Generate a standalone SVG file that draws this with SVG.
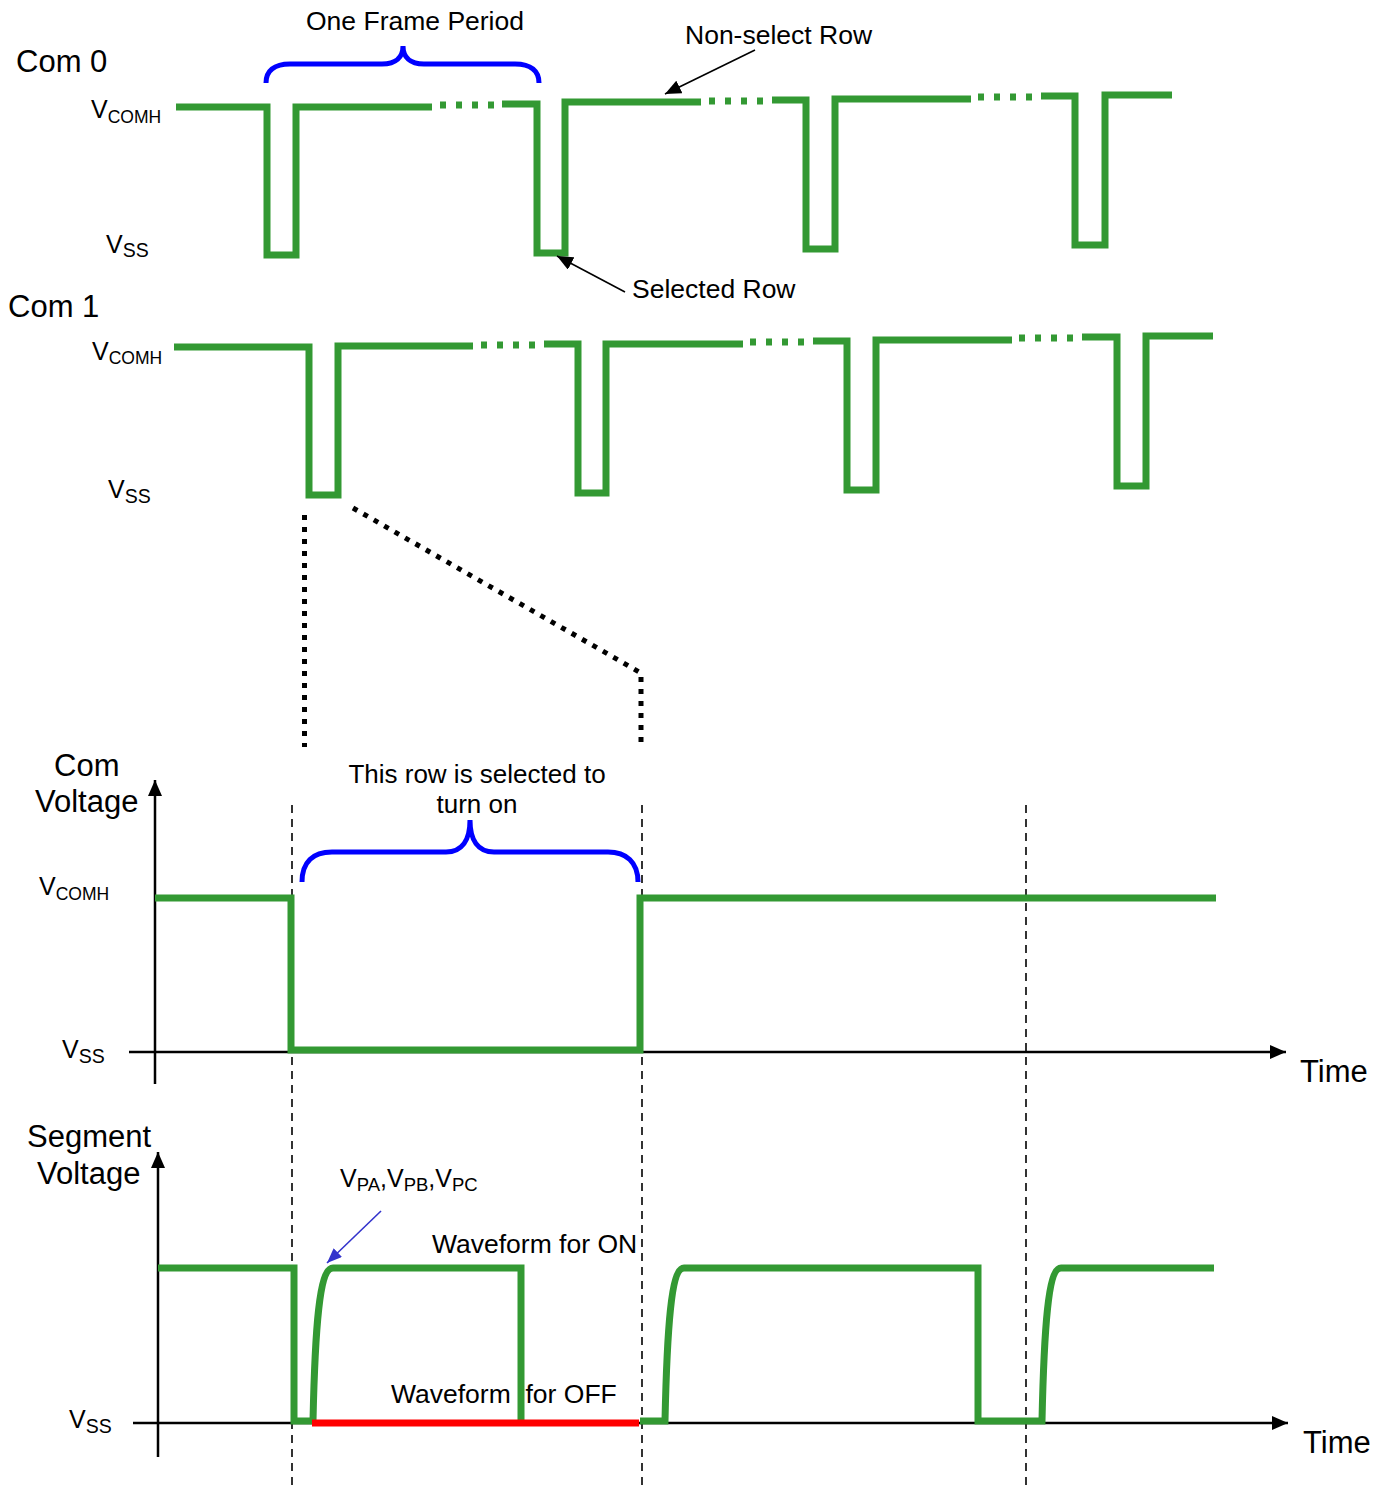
<svg xmlns="http://www.w3.org/2000/svg" width="1390" height="1486" viewBox="0 0 1390 1486">
<style>
text{font-family:"Liberation Sans",Arial,sans-serif;fill:#000}
.big{font-size:31px}
.lbl{font-size:26.5px}
.v{font-size:25px}
.sub{font-size:17.5px}
.subs{font-size:19.5px}
.g{fill:none;stroke:#339933;stroke-width:7;stroke-linejoin:miter;stroke-linecap:butt}
.gd{fill:none;stroke:#339933;stroke-width:7;stroke-dasharray:6 10}
.brace{fill:none;stroke:#0000ff;stroke-width:5;stroke-linecap:butt}
.dot{fill:none;stroke:#000;stroke-width:5;stroke-dasharray:5 7}
.axis{fill:none;stroke:#000;stroke-width:2.5}
.vd{fill:none;stroke:#000;stroke-width:1.6;stroke-dasharray:8 6}
.ptr{fill:none;stroke:#000;stroke-width:1.6}
</style>
<defs>
<marker id="ah" markerUnits="userSpaceOnUse" markerWidth="17" markerHeight="14" refX="16" refY="7" orient="auto">
<path d="M0,0 L16,7 L0,14 z" fill="#000"/>
</marker>
<marker id="ahb" markerUnits="userSpaceOnUse" markerWidth="16" markerHeight="12" refX="15" refY="6" orient="auto">
<path d="M0,0 L15,6 L0,12 z" fill="#3333cc"/>
</marker>
</defs>

<g id="com0">
<text class="big" x="16" y="72">Com 0</text>
<text class="v" x="91" y="118">V<tspan class="sub" dy="5">COMH</tspan></text>
<text class="v" x="106" y="253">V<tspan class="subs" dy="4">SS</tspan></text>
<path class="g" d="M176,107 H267 V255 H296 V107 H432"/>
<path class="gd" d="M440,105 H496"/>
<path class="g" d="M502,104 H537 V253 H565 V102 H701"/>
<path class="gd" d="M709,101 H765"/>
<path class="g" d="M772,100 H806 V249 H835 V99 H971"/>
<path class="gd" d="M978,97 H1034"/>
<path class="g" d="M1041,96 H1075 V245 H1105 V95 H1172"/>
</g>

<g id="frame-brace">
<path class="brace" d="M266,83 C266,71 274,64 290,64 H382 C396,64 403,57 403,46 C403,57 410,64 424,64 H515 C531,64 539,71 539,83"/>
<text class="lbl" x="306" y="30">One Frame Period</text>
</g>

<g id="com1">
<text class="big" x="8" y="317">Com 1</text>
<text class="v" x="92" y="360">V<tspan class="sub" dy="4">COMH</tspan></text>
<text class="v" x="108" y="498">V<tspan class="subs" dy="5">SS</tspan></text>
<path class="g" d="M174,347 H309 V495 H338 V346 H473"/>
<path class="gd" d="M481,345 H537"/>
<path class="g" d="M544,344 H578 V493 H606 V344 H743"/>
<path class="gd" d="M750,342 H806"/>
<path class="g" d="M813,341 H847 V490 H876 V340 H1012"/>
<path class="gd" d="M1019,338 H1075"/>
<path class="g" d="M1082,337 H1117 V486 H1146 V336 H1213"/>
</g>

<g id="annotations">
<text class="lbl" x="685" y="44">Non-select Row</text>
<text class="lbl" x="632" y="298">Selected Row</text>
</g>

<g id="connectors">
<line class="ptr" x1="755" y1="50" x2="665" y2="94" marker-end="url(#ah)"/>
<line class="ptr" x1="625" y1="292" x2="557" y2="256" marker-end="url(#ah)"/>
<path class="dot" d="M304.5,515 V747"/>
<path class="dot" d="M353,508 L641,673 V743"/>
<line x1="381" y1="1211" x2="327" y2="1263" stroke="#3333cc" stroke-width="1.6" marker-end="url(#ahb)"/>
</g>

<g id="guides">
<path class="vd" d="M292,805 V1486"/>
<path class="vd" d="M642,805 V1486"/>
<path class="vd" d="M1026,805 V1486"/>
</g>

<g id="com-voltage">
<text class="big" x="54" y="776">Com</text>
<text class="big" x="35" y="812">Voltage</text>
<text class="v" x="39" y="895">V<tspan class="sub" dy="5">COMH</tspan></text>
<text class="v" x="62" y="1058">V<tspan class="subs" dy="5">SS</tspan></text>
<line class="axis" x1="155" y1="1084" x2="155" y2="780" marker-end="url(#ah)"/>
<line class="axis" x1="129" y1="1052" x2="1286" y2="1052" marker-end="url(#ah)"/>
<text class="big" x="1300" y="1082">Time</text>
<path class="g" d="M155,898 H291 V1050 H640 V898 H1216"/>
<path class="brace" d="M302,882 C302,862 313,852 332,852 H446 C462,852 470,840 470,820 C470,840 478,852 494,852 H608 C626,852 638,862 638,882"/>
<text style="font-size:26px" x="477" y="783" text-anchor="middle">This row is selected to</text>
<text style="font-size:26px" x="477" y="813" text-anchor="middle">turn on</text>
</g>

<g id="segment-voltage">
<text class="big" x="27" y="1147">Segment</text>
<text class="big" x="37" y="1184">Voltage</text>
<text class="v" x="69" y="1428">V<tspan class="subs" dy="5">SS</tspan></text>
<line class="axis" x1="158" y1="1457" x2="158" y2="1152" marker-end="url(#ah)"/>
<line class="axis" x1="133" y1="1423" x2="1288" y2="1423" marker-end="url(#ah)"/>
<text class="big" x="1303" y="1453">Time</text>
<path class="g" d="M158,1268 H294 V1421 H313 C315,1330 319,1268 333,1268 H521 V1421"/>
<path d="M312,1423 H639" fill="none" stroke="#ff0000" stroke-width="7"/>
<path class="g" d="M640,1421 H665 C667,1330 671,1268 684,1268 H978 V1421 H1042 C1044,1330 1048,1268 1061,1268 H1214"/>
<text class="v" x="340" y="1187">V<tspan style="font-size:18.5px" dy="4">PA</tspan><tspan dy="-4">,V</tspan><tspan style="font-size:18.5px" dy="4">PB</tspan><tspan dy="-4">,V</tspan><tspan style="font-size:18.5px" dy="4">PC</tspan></text>
<text class="lbl" x="432" y="1253">Waveform for ON</text>
<text class="lbl" x="391" y="1403" style="white-space:pre" xml:space="preserve">Waveform  for OFF</text>
</g>
</svg>
